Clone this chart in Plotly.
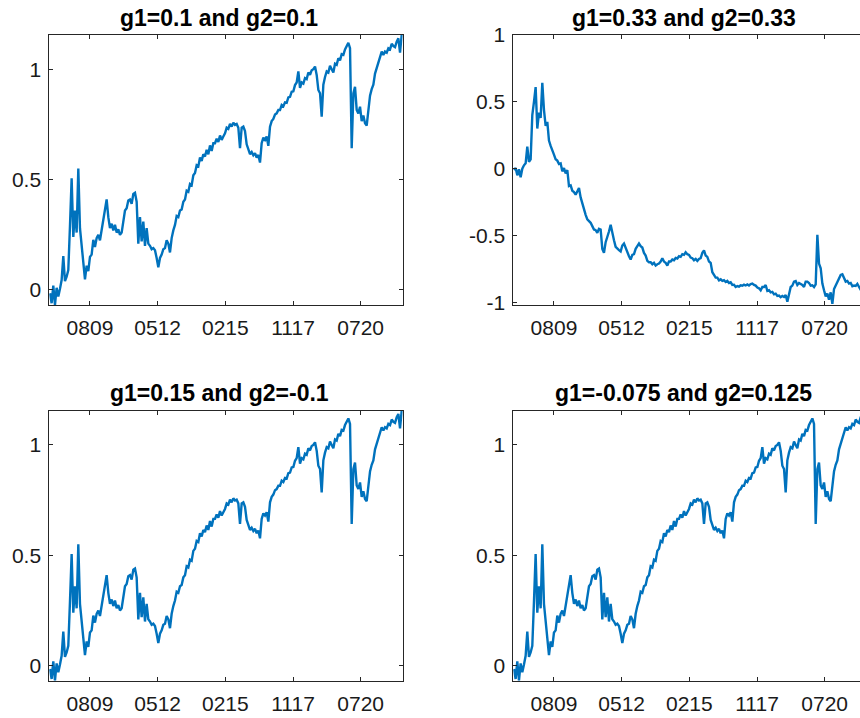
import plotly.graph_objects as go

# Sample index ticks and their date labels (mmdd)
TICK_POS = [24, 64.6, 105.2, 145.8, 186.4]
TICK_TEXT = ["0809", "0512", "0215", "1117", "0720"]

TITLES = [
    "g1=0.1 and g2=0.1",
    "g1=0.33 and g2=0.33",
    "g1=0.15 and g2=-0.1",
    "g1=-0.075 and g2=0.125",
]

# Cumulative series for the (g1, g2) settings that track the index
SERIES_A = [
    -0.015, -0.06, 0.02, -0.068, 0.01, -0.03, 0.005, 0.045, 0.154, 0.04,
    0.06, 0.09, 0.29, 0.506, 0.24, 0.36, 0.26, 0.55, 0.28, 0.20,
    0.10, 0.048, 0.11, 0.085, 0.15, 0.16, 0.227, 0.195, 0.235, 0.25,
    0.225, 0.275, 0.31, 0.37, 0.41, 0.33, 0.28, 0.30, 0.27, 0.295,
    0.26, 0.275, 0.25, 0.26, 0.31, 0.36, 0.37, 0.405, 0.41, 0.39,
    0.435, 0.44, 0.40, 0.21, 0.33, 0.22, 0.31, 0.20, 0.28, 0.21,
    0.20, 0.185, 0.19, 0.18, 0.145, 0.103, 0.145, 0.16, 0.185, 0.19,
    0.225, 0.21, 0.17, 0.235, 0.27, 0.295, 0.335, 0.33, 0.36, 0.365,
    0.40, 0.41, 0.45, 0.445, 0.48, 0.475, 0.52, 0.53, 0.565, 0.56,
    0.60, 0.585, 0.615, 0.605, 0.635, 0.615, 0.655, 0.63, 0.665, 0.665,
    0.685, 0.67, 0.70, 0.68, 0.695, 0.71, 0.735, 0.73, 0.752, 0.74,
    0.758, 0.748, 0.752, 0.735, 0.642, 0.735, 0.74, 0.72, 0.66, 0.632,
    0.615, 0.625, 0.61, 0.62, 0.60, 0.612, 0.577, 0.665, 0.69, 0.68,
    0.695, 0.653, 0.74, 0.765, 0.775, 0.795, 0.80, 0.815, 0.815, 0.838,
    0.832, 0.85, 0.848, 0.872, 0.875, 0.898, 0.90, 0.928, 0.94, 0.99,
    0.915, 0.94, 0.935, 0.96, 0.955, 0.985, 0.975, 0.995, 1.0, 1.012,
    0.974, 0.906, 0.891, 0.785, 0.93, 0.965, 0.99, 0.985, 1.015, 1.0,
    0.985, 1.025, 1.02, 1.05, 1.04, 1.068, 1.065, 1.09, 1.105, 1.12,
    1.095, 0.642, 0.89, 0.92, 0.816, 0.80, 0.83, 0.765, 0.79, 0.755,
    0.745, 0.82, 0.88, 0.91, 0.93, 0.98, 1.005, 1.04, 1.06, 1.08,
    1.065, 1.08, 1.075, 1.095, 1.09, 1.115, 1.105, 1.10, 1.125, 1.14,
    1.075, 1.155,
]

# Cumulative series for g1=g2=0.33
SERIES_B = [
    -0.01, 0.005, -0.05, -0.005, -0.065, 0.0, 0.025, 0.04, 0.165, 0.05,
    0.07, 0.40, 0.50, 0.61, 0.30, 0.42, 0.38, 0.642, 0.44, 0.32,
    0.35, 0.21, 0.17, 0.13, 0.105, 0.07, 0.06, 0.035, 0.04, -0.02,
    0.005, -0.035, -0.01, -0.13, -0.125, -0.165, -0.175, -0.195, -0.17, -0.145,
    -0.215, -0.26, -0.315, -0.345, -0.38, -0.39, -0.405, -0.43, -0.455, -0.46,
    -0.48, -0.45, -0.455, -0.60, -0.63, -0.55, -0.515, -0.47, -0.42, -0.49,
    -0.535, -0.585, -0.60, -0.61, -0.62, -0.575, -0.56, -0.595, -0.635, -0.655,
    -0.68, -0.645, -0.64, -0.60, -0.58, -0.56, -0.58, -0.59, -0.63, -0.65,
    -0.69, -0.70, -0.70, -0.715, -0.705, -0.725, -0.715, -0.71, -0.695, -0.67,
    -0.695, -0.705, -0.725, -0.695, -0.695, -0.68, -0.685, -0.668, -0.672, -0.655,
    -0.66, -0.64, -0.645, -0.625, -0.64, -0.645, -0.665, -0.67, -0.685, -0.675,
    -0.69, -0.675, -0.67, -0.63, -0.612, -0.65, -0.66, -0.695, -0.705, -0.775,
    -0.795, -0.815, -0.815, -0.835, -0.828, -0.84, -0.835, -0.848, -0.84, -0.855,
    -0.85, -0.87, -0.868, -0.885, -0.878, -0.882, -0.872, -0.876, -0.868, -0.874,
    -0.866, -0.874, -0.864, -0.86, -0.87, -0.875, -0.89, -0.895, -0.91, -0.885,
    -0.885, -0.87, -0.915, -0.91, -0.925, -0.922, -0.94, -0.935, -0.952, -0.95,
    -0.962, -0.952, -0.96, -0.945, -0.995, -0.925, -0.885, -0.875, -0.845, -0.84,
    -0.87, -0.855, -0.862, -0.87, -0.885, -0.845, -0.845, -0.855, -0.875, -0.872,
    -0.885, -0.865, -0.495, -0.71, -0.745, -0.86, -0.91, -0.955, -0.935, -0.98,
    -0.925, -1.012, -0.90, -0.875, -0.845, -0.825, -0.795, -0.79, -0.82, -0.845,
    -0.84, -0.86, -0.855, -0.88, -0.875, -0.878, -0.862, -0.89, -0.907, -0.895,
    -0.91, -0.915,
]

LINE_COLOR = "#0072BD"
AXIS_COLOR = "#262626"
FONT = "Liberation Sans, Arial, Helvetica, sans-serif"

W, H = 860, 718

# Panel boxes in pixels
LEFT_X = (49.3, 402.7)
RIGHT_X = (513.3, 860.0)
TOP_Y = (35.0, 305.0)
BOT_Y = (410.7, 680.7)

x = list(range(len(SERIES_A)))
x_full = [-0.4, len(SERIES_A) - 0.4]
px_per_unit = (LEFT_X[1] - LEFT_X[0]) / (x_full[1] - x_full[0])
# right-hand column runs past the page edge, so only part of the range shows
x_right = [x_full[0], x_full[0] + (RIGHT_X[1] - RIGHT_X[0]) / px_per_unit]

a_range = [min(SERIES_A), max(SERIES_A)]
b_range = [-1.02, 1.0]

panels = [
    (SERIES_A, LEFT_X, TOP_Y, x_full, a_range, [0, 0.5, 1], True),
    (SERIES_B, RIGHT_X, TOP_Y, x_right, b_range, [-1, -0.5, 0, 0.5, 1], False),
    (SERIES_A, LEFT_X, BOT_Y, x_full, a_range, [0, 0.5, 1], True),
    (SERIES_A, RIGHT_X, BOT_Y, x_right, a_range, [0, 0.5, 1], False),
]

fig = go.Figure()
layout = dict(
    width=W, height=H,
    margin=dict(l=0, r=0, t=0, b=0, pad=0),
    paper_bgcolor="white", plot_bgcolor="white",
    showlegend=False,
    font=dict(family=FONT, size=21, color=AXIS_COLOR),
)

for k, (ser, xb, yb, xr, yr, yt, right_vis) in enumerate(panels, start=1):
    sfx = "" if k == 1 else str(k)
    fig.add_trace(go.Scatter(
        x=x, y=ser, mode="lines",
        line=dict(color=LINE_COLOR, width=2.4),
        xaxis="x" + sfx, yaxis="y" + sfx, hoverinfo="skip",
    ))
    layout["xaxis" + sfx] = dict(
        domain=[xb[0] / W, xb[1] / W], anchor="y" + sfx, range=xr,
        tickmode="array", tickvals=TICK_POS, ticktext=TICK_TEXT,
        ticks="inside", ticklen=4, tickwidth=1, tickcolor=AXIS_COLOR,
        showline=True, linecolor=AXIS_COLOR, linewidth=1, mirror="ticks",
        showgrid=False, zeroline=False, ticklabelstandoff=4,
        automargin=False,
        tickfont=dict(size=21, color="#1a1a1a"),
    )
    layout["yaxis" + sfx] = dict(
        domain=[(H - yb[1]) / H, (H - yb[0]) / H], anchor="x" + sfx, range=yr,
        tickmode="array", tickvals=yt, ticktext=[f"{v:g}" for v in yt],
        ticks="inside", ticklen=4, tickwidth=1, tickcolor=AXIS_COLOR,
        showline=True, linecolor=AXIS_COLOR, linewidth=1,
        mirror="ticks" if right_vis else False,
        showgrid=False, zeroline=False, ticklabelstandoff=3,
        automargin=False,
        tickfont=dict(size=21, color="#1a1a1a"),
    )

layout["annotations"] = [
    dict(text=f"<b>{TITLES[0]}</b>", x=219.3 / W, y=(H - 18.3) / H),
    dict(text=f"<b>{TITLES[1]}</b>", x=684.0 / W, y=(H - 18.3) / H),
    dict(text=f"<b>{TITLES[2]}</b>", x=219.3 / W, y=(H - 393.3) / H),
    dict(text=f"<b>{TITLES[3]}</b>", x=683.3 / W, y=(H - 393.3) / H),
]
for ann in layout["annotations"]:
    ann.update(xref="paper", yref="paper", xanchor="center", yanchor="middle",
               showarrow=False, font=dict(family=FONT, size=23, color="black"))

fig.update_layout(**layout)
fig.write_html("out.html")
